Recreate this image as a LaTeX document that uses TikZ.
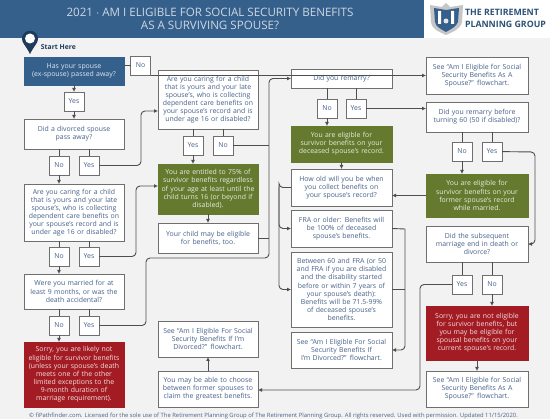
\documentclass[tikz,border=0pt]{standalone}
\usepackage{fontspec}
\setmainfont{Open Sans}
\usepackage{xcolor}
\usetikzlibrary{arrows.meta,positioning,calc}
\definecolor{hdrblue}{HTML}{35608C}
\definecolor{txtblue}{HTML}{47628A}
\definecolor{edgegray}{HTML}{6F6F6F}
\definecolor{okgreen}{HTML}{667A2F}
\definecolor{badred}{HTML}{A31C24}
\definecolor{navy}{HTML}{1F3A5C}
\begin{document}
\begin{tikzpicture}[x=1pt,y=-1pt,>={Latex[length=4pt,width=4pt]},node distance=7pt,every node/.style={outer sep=0pt},
 box/.style={draw=edgegray,line width=.9pt,fill=white,text=txtblue,text width=96pt,inner xsep=2pt,inner ysep=0pt,align=center,font=\fontsize{6.9}{8.1}\selectfont},
 wide/.style={box,text width=97pt},
 blue/.style={box,draw=hdrblue,fill=hdrblue,text=white!85!hdrblue},
 green/.style={box,draw=okgreen,fill=okgreen,text=white!85!okgreen},
 red/.style={box,draw=badred,fill=badred,text=white!85!badred},
 ans/.style={draw=edgegray,line width=.9pt,fill=white,text=txtblue,minimum width=20pt,minimum height=19pt,inner sep=0pt,font=\fontsize{6.9}{8.1}\selectfont},
 link/.style={->,draw=edgegray!70!black,line width=.9pt,rounded corners=4pt}]
 \useasboundingbox (0,0) rectangle (550,419);
 \fill[gray!10] (0,0) rectangle (550,419);
 \fill[hdrblue] (0,0) rectangle (424,38);
 \fill[white] (424,0) rectangle (550,38);
 \node[text=white!75!hdrblue,align=center,font=\fontsize{11.6}{13.5}\selectfont] (title) at (210,19) {2021 $\cdot$ AM I ELIGIBLE FOR SOCIAL SECURITY BENEFITS\\AS A SURVIVING SPOUSE?};
 % logo
 \fill[gray!45] (430,5) -- (442,7) -- (446,3) -- (450,7) -- (463,5) -- (462,22) .. controls (460,30) and (452,32) .. (446,35) .. controls (440,32) and (432,30) .. (431,22) -- cycle;
 \fill[hdrblue] (434,8) -- (446,10) -- (459,8) -- (458,22) .. controls (456,27) and (451,29) .. (446,32) .. controls (441,29) and (436,27) .. (435,22) -- cycle;
 \fill[white] (438,11) rectangle (441,24) (451,11) rectangle (454,24);
 \fill[gray!20] (446,21) circle (2.5pt);
 \node[anchor=west,text=hdrblue!85!black,align=left,inner sep=0pt,font=\fontsize{8.8}{12}\selectfont\bfseries] (logo) at (465,18) {THE RETIREMENT\\PLANNING GROUP};
 % pin
 \fill[navy] (30,54) .. controls (26,46) and (22,43) .. (22,39) .. controls (22,28) and (38,28) .. (38,39) .. controls (38,43) and (34,46) .. (30,54) -- cycle;
 \fill[white] (30,38.5) circle (5pt);
 \node[anchor=west,inner sep=0pt,text=navy,font=\fontsize{6.8}{8}\selectfont\bfseries] (start) at (41,47) {Start Here};
 % first column
 \node[blue,minimum height=28pt] (spouse) at (74,71) {Has your spouse\\(ex-spouse) passed away?};
 \node[ans,below=7pt of spouse] (yes1) {Yes};
 \node[box,minimum height=30pt,below=8pt of yes1] (divorced) {Did a divorced spouse\\pass away?};
 \node[ans,below=7pt of divorced,xshift=-15pt] (no2) {No};
 \node[ans,right=10pt of no2] (yes2) {Yes};
 \node[box,minimum height=57pt,below=9pt of no2,xshift=15pt] (caring1) {Are you caring for a child\\that is yours and your late\\spouse's, who is collecting\\dependent care benefits on\\your spouse's record and is\\under age 16 or disabled?};
 \node[ans,below=6pt of caring1,xshift=-15pt] (no3) {No};
 \node[ans,right=10pt of no3] (yes3) {Yes};
 \node[box,minimum height=35pt,below=8pt of no3,xshift=15pt] (married) {Were you married for at\\least 9 months, or was the\\death accidental?};
 \node[ans,below=7pt of married,xshift=-15pt] (no4) {No};
 \node[ans,right=10pt of no4] (yes4) {Yes};
 \node[red,minimum height=65pt,below=7pt of no4,xshift=15pt] (sorry1) {Sorry, you are likely not\\eligible for survivor benefits\\(unless your spouse's death\\meets one of the other\\limited exceptions to the\\9-month duration of\\marriage requirement).};
 \node[ans] (no1) at (140.5,65.5) {No};
 % second column
 \node[box,minimum height=59pt] (caring2) at (208,99.5) {Are you caring for a child\\that is yours and your late\\spouse's, who is collecting\\dependent care benefits on\\your spouse's record and is\\under age 16 or disabled?};
 \node[ans,below=7pt of caring2,xshift=-15pt] (yes5) {Yes};
 \node[ans,right=10pt of yes5] (no5) {No};
 \node[green,minimum height=50pt,below=9pt of yes5,xshift=15pt] (entitled) {You are entitled to 75\% of\\survivor benefits regardless\\of your age at least until the\\child turns 16 (or beyond if\\disabled).};
 \node[box,minimum height=30pt,below=9pt of entitled] (child) {Your child may be eligible\\for benefits, too.};
 \node[box,minimum height=36pt] (seediv1) at (208,339) {See ``Am I Eligible For Social\\Security Benefits If I'm\\Divorced?'' flowchart.};
 \node[box,minimum height=36pt,below=14pt of seediv1] (choose) {You may be able to choose\\between former spouses to\\claim the greatest benefits.};
 % third column
 \node[wide,minimum height=19pt] (remarry) at (341.5,78.5) {Did you remarry?};
 \node[ans,below=11pt of remarry,xshift=-14.5pt] (no6) {No};
 \node[ans,right=9pt of no6] (yes6) {Yes};
 \node[green,text width=97pt,minimum height=36pt,below=8pt of no6,xshift=14.5pt] (eligible1) {You are eligible for\\survivor benefits on your\\deceased spouse's record.};
 \node[wide,minimum height=37pt,below=7pt of eligible1] (howold) {How old will you be when\\you collect benefits on\\your spouse's record?};
 \node[wide,minimum height=37pt,below=4pt of howold] (fra) {FRA or older: Benefits will\\be 100\% of deceased\\spouse's benefits.};
 \node[wide,minimum height=75pt,below=5pt of fra] (between) {Between 60 and FRA (or 50\\and FRA if you are disabled\\and the disability started\\before or within 7 years of\\your spouse's death):\\Benefits will be 71.5-99\%\\of deceased spouse's\\benefits.};
 \node[wide,minimum height=36pt,below=5pt of between] (seediv2) {See ``Am I Eligible For Social\\Security Benefits If\\I'm Divorced?'' flowchart.};
 % fourth column
 \node[box,text width=98pt,minimum height=37pt] (seesp1) at (477,75.5) {See ``Am I Eligible for Social\\Security Benefits As A\\Spouse?'' flowchart.};
 \node[box,text width=98pt,minimum height=30pt,below=8pt of seesp1] (before) {Did you remarry before\\turning 60 (50 if disabled)?};
 \node[ans,below=10pt of before,xshift=-15pt] (no7) {No};
 \node[ans,right=10pt of no7] (yes7) {Yes};
 \node[green,text width=98pt,minimum height=43pt,below=13pt of no7,xshift=15pt] (eligible2) {You are eligible for\\survivor benefits on your\\former spouse's record\\while married.};
 \node[box,text width=98pt,minimum height=36pt,below=9pt of eligible2] (subseq) {Did the subsequent\\marriage end in death or\\divorce?};
 \node[ans,below=13pt of subseq,xshift=-15pt] (yes8) {Yes};
 \node[ans,right=10pt of yes8] (no8) {No};
 \node[red,text width=98pt,minimum height=54pt,below=12pt of yes8,xshift=15pt] (sorry2) {Sorry, you are not eligible\\for survivor benefits, but\\you may be eligible for\\spousal benefits on your\\current spouse's record.};
 \node[box,text width=98pt,minimum height=36pt,below=11pt of sorry2] (seesp2) {See ``Am I Eligible for Social\\Security Benefits As A\\Spouse?'' flowchart.};
 \node[text=txtblue,inner sep=0pt,font=\fontsize{5.85}{6}\selectfont] (foot) at (273.5,416) {© fiPathfinder.com. Licensed for the sole use of The Retirement Planning Group of The Retirement Planning Group. All rights reserved. Used with permission. Updated 11/15/2020.};
 % helper corners
 \coordinate (up1) at (136,186);
 \coordinate (up2) at (146,258);
 \coordinate (bus1) at (269,78.5);
 \coordinate (bus2) at (279,187);
 \coordinate (bus3) at (405,229);
 \coordinate (bus4) at (535,152);
 \coordinate (bus5) at (420,390);
 % connectors
 \draw[link,-] (spouse.east|-no1) -- (no1);
 \draw[link] (no1.east|-seesp1) -- (seesp1.west);
 \draw[link] (spouse) -- (yes1);
 \draw[link] (yes1) -- (divorced);
 \draw[link,-] (divorced.south-|no2) -- (no2);
 \draw[link,-] (divorced.south-|yes2) -- (yes2);
 \draw[link] (no2) -- (no2|-caring1.north);
 \draw[link] (yes2) -| (141,111) -- (caring2.west|-0,111);
 \draw[link,-] (caring1.south-|no3) -- (no3);
 \draw[link,-] (caring1.south-|yes3) -- (yes3);
 \draw[link] (no3) -- (no3|-married.north);
 \draw[link] (yes3) -| (up1) -- (entitled.west|-up1);
 \draw[link,-] (married.south-|no4) -- (no4);
 \draw[link,-] (married.south-|yes4) -- (yes4);
 \draw[link] (no4) -- (no4|-sorry1.north);
 \draw[link] (yes4) -| (up2) -- (bus1|-up2) -- (bus1) -- (remarry.west);
 \draw[link,-] (caring2.south-|yes5) -- (yes5);
 \draw[link,-] (caring2.south-|no5) -- (no5);
 \draw[link] (yes5) -- (yes5|-entitled.north);
 \draw[link,-] (no5) -- (bus1|-no5);
 \draw[link] (entitled) -- (child);
 \draw[link,-] (child) -- (bus1|-child);
 \draw[link] (choose) -- (seediv1);
 \draw[link,-] (remarry.south-|no6) -- (no6);
 \draw[link,-] (remarry.south-|yes6) -- (yes6);
 \draw[link] (no6) -- (no6|-eligible1.north);
 \draw[link] (yes6) -- (before.west|-yes6);
 \draw[link] (eligible1) -- (howold);
 \draw[link] (howold.west) -| (bus2) |- (fra.west);
 \draw[link] (bus2) |- (between.west);
 \draw[link,-] (fra.east) -- (bus3);
 \draw[link,-] (between.east) -- (bus3|-between);
 \draw[link] (bus3) |- (seediv2.east);
 \draw[link,-] (before.south-|no7) -- (no7);
 \draw[link,-] (before.south-|yes7) -- (yes7);
 \draw[link] (no7) -- (no7|-eligible2.north);
 \draw[link] (yes7) -- (bus4) |- (subseq.east);
 \draw[link] (eligible2.west) -- (howold.east|-eligible2);
 \draw[link,-] (subseq.south-|yes8) -- (yes8);
 \draw[link,-] (subseq.south-|no8) -- (no8);
 \draw[link] (no8) -- (no8|-sorry2.north);
 \draw[link] (sorry2) -- (seesp2);
 \draw[link] (yes8) -| (bus5) -- (choose.east|-bus5);
\end{tikzpicture}
\end{document}
